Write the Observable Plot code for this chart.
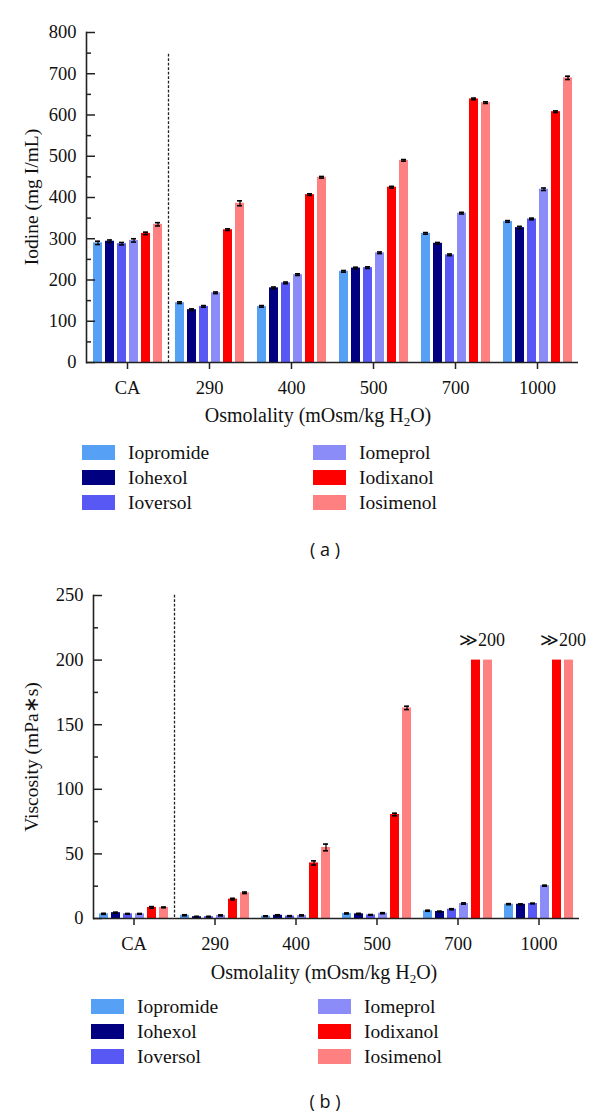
<!DOCTYPE html>
<html><head><meta charset="utf-8">
<script src="https://cdn.jsdelivr.net/npm/d3@7"></script>
<script src="https://cdn.jsdelivr.net/npm/@observablehq/plot@0.6"></script>
<style>
body{margin:0;background:#fff;}
#root{position:relative;width:600px;height:1116px;font-family:"Liberation Serif",serif;color:#111;overflow:hidden;}
.abs{position:absolute;}
.xtitle{font-size:20px;width:600px;text-align:center;line-height:1;}
.ytitle{font-size:19.5px;white-space:nowrap;transform:translate(-50%,-50%) rotate(-90deg);line-height:1;}
.item{position:absolute;display:flex;align-items:center;font-size:19.5px;line-height:1;}
.sw{width:33px;height:15px;margin-right:13px;}
.panel{font-family:"Open Sans",sans-serif;font-size:18px;width:600px;text-align:center;line-height:1;}
</style></head>
<body><div id="root"></div>
<script>
// categories
const groups = ["CA","290","400","500","700","1000"];
const drugs = ["Iopromide","Iohexol","Ioversol","Iomeprol","Iodixanol","Iosimenol"];
const colors = ["#56a0f6","#000080","#5858f4","#8c8cf8","#ff0000","#ff8080"];

// (a) iodine concentration, mg I/mL, one value per osmolality group
const iodineIopromide = [290,145,136,221,313,342];
const iodineIohexol   = [294,128,181,229,289,327];
const iodineIoversol  = [288,136,193,230,261,348];
const iodineIomeprol  = [296,169,213,266,362,420];
const iodineIodixanol = [313,322,407,425,639,608];
const iodineIosimenol = [335,386,449,490,630,690];
const iodineErrIopromide = [4,2,2,2,2,2];
const iodineErrIohexol   = [3,2,2,2,2,3];
const iodineErrIoversol  = [3,2,2,2,2,2];
const iodineErrIomeprol  = [4,2,2,2,2,3];
const iodineErrIodixanol = [3,2,2,2,2,2];
const iodineErrIosimenol = [4,6,2,2,2,4];

// (b) viscosity, mPa*s (200 = off-scale ">>200")
const viscIopromide = [3.6,2.5,1.8,3.9,6.0,11.1];
const viscIohexol   = [4.5,1.4,2.5,3.6,5.4,11.0];
const viscIoversol  = [3.6,1.4,1.9,2.8,7.2,11.6];
const viscIomeprol  = [3.6,2.4,2.4,4.1,11.6,25.4];
const viscIodixanol = [8.6,15.0,43.0,80.5,200,200];
const viscIosimenol = [8.6,19.9,55.0,163.0,200,200];
const viscErrIopromide = [0.4,0.4,0.3,0.4,0.4,0.4];
const viscErrIohexol   = [0.4,0.3,0.4,0.4,0.3,0.3];
const viscErrIoversol  = [0.3,0.3,0.3,0.3,0.4,0.3];
const viscErrIomeprol  = [0.3,0.4,0.4,0.4,0.5,0.4];
const viscErrIodixanol = [0.6,0.6,1.6,1.0,null,null];
const viscErrIosimenol = [0.3,0.6,2.6,1.3,null,null];
const viscOffScale = ["700","1000"];
const offScaleLabel = "\u226B200";

// axis ticks
const iodineMajor = d3.range(0,801,100);
const iodineMinor = d3.range(50,800,100);
const viscMajor = d3.range(0,251,50);
const viscMinor = d3.range(25,250,50);

const serif = "'Liberation Serif', 'Times New Roman', serif";

function table(series, errs){
  const rows=[];
  drugs.forEach((d,i)=>groups.forEach((g,j)=>rows.push({group:g,drug:d,value:series[i][j],err:errs[i][j]})));
  return rows;
}
const iodineData = table(
  [iodineIopromide,iodineIohexol,iodineIoversol,iodineIomeprol,iodineIodixanol,iodineIosimenol],
  [iodineErrIopromide,iodineErrIohexol,iodineErrIoversol,iodineErrIomeprol,iodineErrIodixanol,iodineErrIosimenol]);
const viscData = table(
  [viscIopromide,viscIohexol,viscIoversol,viscIomeprol,viscIodixanol,viscIosimenol],
  [viscErrIopromide,viscErrIohexol,viscErrIoversol,viscErrIomeprol,viscErrIodixanol,viscErrIosimenol]);

function chart({data, domain, major, minor, height, marginTop, marginBottom, marginLeft, marginRight, dividerTop, extra=[]}){
  const withErr = data.filter(d=>d.err!=null);
  return Plot.plot({
    width:600, height, marginTop, marginBottom, marginLeft, marginRight,
    style:{fontFamily:serif, fontSize:"18px", color:"#111", background:"transparent", overflow:"visible"},
    fx:{domain:groups, padding:0, label:null},
    x:{domain:drugs, paddingInner:0.29, paddingOuter:0.48, axis:null},
    y:{domain, label:null},
    color:{domain:drugs, range:colors},
    marks:[
      Plot.barY(data,{fx:"group", x:"drug", y:"value", fill:"drug"}),
      Plot.ruleX(withErr,{fx:"group", x:"drug", y1:d=>d.value-d.err, y2:d=>d.value+d.err, stroke:"#000", strokeWidth:1.2}),
      Plot.tickY(withErr,{fx:"group", x:"drug", y:d=>d.value+d.err, stroke:"#000", strokeWidth:1.6, insetLeft:2, insetRight:2}),
      Plot.tickY(withErr,{fx:"group", x:"drug", y:d=>d.value-d.err, stroke:"#000", strokeWidth:1.6, insetLeft:2, insetRight:2}),
      Plot.frame({anchor:"left", fx:()=>"290", stroke:"#222", strokeDasharray:"1.3,3.2", strokeWidth:1.3, insetTop:dividerTop}),
      ...extra,
      Plot.frame({anchor:"left", fx:()=>"CA", stroke:"#222", strokeWidth:1.6}),
      Plot.ruleY([0],{stroke:"#222", strokeWidth:1.6}),
      Plot.axisFx({anchor:"bottom", tickSize:7, tickPadding:11, label:null, fontSize:18.5, fontFamily:serif, stroke:"#222", strokeWidth:1.5}),
      Plot.axisY({ticks:major, tickSize:-9, tickPadding:19, label:null, fontSize:18.5, fontFamily:serif, stroke:"#222", strokeWidth:1.5}),
      Plot.axisY({ticks:minor, tickSize:-5, text:null, label:null, stroke:"#222", strokeWidth:1.5})
    ]
  });
}

const root = document.getElementById("root");
function place(el, top, left){ el.classList.add("abs"); el.style.top=top+"px"; el.style.left=(left||0)+"px"; root.appendChild(el); return el; }
function div(cls, html){ const e=document.createElement("div"); e.className=cls; e.innerHTML=html; return e; }

const top1 = chart({data:iodineData, domain:[0,800], major:iodineMajor, minor:iodineMinor,
  height:400, marginTop:32, marginBottom:38, marginLeft:85, marginRight:22, dividerTop:22});
place(top1, 0, 0);

const offRows = viscData.filter(d=>viscOffScale.includes(d.group) && d.drug==="Iodixanol");
const bottom1 = chart({data:viscData, domain:[0,250], major:viscMajor, minor:viscMinor,
  height:400, marginTop:35, marginBottom:42, marginLeft:92, marginRight:21, dividerTop:0,
  extra:[Plot.text(offRows,{fx:"group", x:"drug", y:"value", text:()=>offScaleLabel, dy:-20, dx:6, fontSize:18, fontFamily:serif, fill:"#111"})]});
place(bottom1, 560, 0);

// titles
place(div("ytitle","Iodine (mg I/mL)"), 197, 32);
place(div("ytitle","Viscosity (mPa\u2217s)"), 757, 32);
place(div("xtitle","Osmolality (mOsm/kg H<sub style='font-size:13px;vertical-align:-4px;line-height:0'>2</sub>O)"), 405, 18);
place(div("xtitle","Osmolality (mOsm/kg H<sub style='font-size:13px;vertical-align:-4px;line-height:0'>2</sub>O)"), 962, 24);

// legends
function legend(top, left1, left2){
  drugs.forEach((d,i)=>{
    const col = i<3?0:1, row = i%3;
    const it = div("item", `<span class="sw" style="background:${colors[i]}"></span><span>${d}</span>`);
    place(it, top + row*25, col===0?left1:left2);
  });
}
legend(443, 82, 313);
legend(997, 91, 318);

place(div("panel","( a )"), 540, 25);
place(div("panel","( b )"), 1092, 25);
</script>
</body></html>
